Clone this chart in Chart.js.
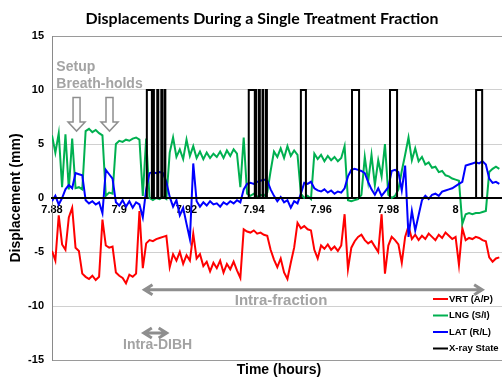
<!DOCTYPE html>
<html>
<head>
<meta charset="utf-8">
<script src="https://cdn.jsdelivr.net/npm/chart.js@4.4.1/dist/chart.umd.min.js"></script>
<style>
body { margin: 0; background: #fff; }
#wrap { width: 502px; height: 377px; position: relative; }
</style>
</head>
<body>
<div id="wrap"><canvas id="chart"></canvas></div>
<script>

// time in hours, one sample every 0.001 h
const time = [
    7.880, 7.881, 7.882, 7.883, 7.884, 7.885, 7.886, 7.887, 7.888, 7.889,
    7.890, 7.891, 7.892, 7.893, 7.894, 7.895, 7.896, 7.897, 7.898, 7.899,
    7.900, 7.901, 7.902, 7.903, 7.904, 7.905, 7.906, 7.907, 7.908, 7.909,
    7.910, 7.911, 7.912, 7.913, 7.914, 7.915, 7.916, 7.917, 7.918, 7.919,
    7.920, 7.921, 7.922, 7.923, 7.924, 7.925, 7.926, 7.927, 7.928, 7.929,
    7.930, 7.931, 7.932, 7.933, 7.934, 7.935, 7.936, 7.937, 7.938, 7.939,
    7.940, 7.941, 7.942, 7.943, 7.944, 7.945, 7.946, 7.947, 7.948, 7.949,
    7.950, 7.951, 7.952, 7.953, 7.954, 7.955, 7.956, 7.957, 7.958, 7.959,
    7.960, 7.961, 7.962, 7.963, 7.964, 7.965, 7.966, 7.967, 7.968, 7.969,
    7.970, 7.971, 7.972, 7.973, 7.974, 7.975, 7.976, 7.977, 7.978, 7.979,
    7.980, 7.981, 7.982, 7.983, 7.984, 7.985, 7.986, 7.987, 7.988, 7.989,
    7.990, 7.991, 7.992, 7.993, 7.994, 7.995, 7.996, 7.997, 7.998, 7.999,
    8.000, 8.001, 8.002, 8.003, 8.004, 8.005, 8.006, 8.007, 8.008, 8.009,
    8.010, 8.011, 8.012, 8.013
];

const vrt = [
    -4.9, -5.8, -1.6, -4.3, -4.8, -1.8, -0.9, -4.6, -4.9, -7.0,
    -7.3, -7.5, -7.2, -7.6, -7.3, -2.0, -4.4, -4.6, -4.5, -6.9,
    -7.2, -7.4, -7.9, -7.1, -7.3, -7.0, -1.2, -6.5, -4.2,
    -3.9, -4.0, -3.8, -3.7, -3.6, -3.5, -6.4, -5.2, -5.8, -5.0,
    -6.1, -5.3, -5.8, -3.3, -5.6, -5.2, -6.3, -5.9, -6.8, -6.0,
    -6.5, -5.8, -6.9, -6.1, -6.6, -5.9, -6.7, -7.4, -2.9, -3.1,
    -3.2, -3.0, -3.3, -3.2, -3.4, -3.5, -4.8, -5.7, -6.4, -5.6,
    -6.9, -7.5, -6.0, -4.6, -2.3, -2.8, -2.6, -2.9, -3.0, -4.8,
    -5.6, -4.4, -4.7, -4.3, -4.8, -4.5, -4.9, -4.4, -1.5, -6.6,
    -4.6, -4.0, -3.6, -3.4, -3.9, -4.2, -4.0, -4.5, -5.0, -1.5,
    -7.0, -4.4, -3.6, -3.9, -4.3,
    -6.0, -3.6, -2.6, -3.8,
    -3.4, -3.9, -3.5, -3.8, -3.3, -3.6, -3.9, -3.4, -3.7, -3.2,
    -3.5, -3.8, -3.6, -6.2, -2.8, -3.9, -3.7, -3.8, -3.6, -3.7,
    -3.9, -4.0, -5.5, -5.9, -5.6, -5.5
];

const lng = [
    5.8, 4.2, 6.0, 1.0, 5.9, 0.8, 5.5, 0.9, 1.0, 0.8,
    6.2, 6.4, 6.1, 6.3, 6.0, 5.8, 0.2, 0.5, 0.4, 5.0,
    5.3, 5.2, 5.4, 5.3, 5.5, 5.6, 5.4, 0.2, 5.5,
    0.0, -0.2, 0.0, -0.1, 0.1, -0.1, 4.2, 5.6, 3.8, 4.5,
    3.6, 5.4, 3.9, 4.8, 3.7, 4.3, 3.6, 4.2, 3.7, 4.1,
    3.8, 4.3, 3.7, 4.4, 3.9, 4.5, 4.1, 1.0, 5.6, 0.4,
    0.2, 0.4, 0.1, 0.3, 0.2, 0.5, 2.5, 4.3, 3.8, 4.6,
    3.7, 4.8, 3.9, 4.4, 4.0, 0.4, 0.0, 0.2, -0.1, 4.1,
    3.6, 4.0, 3.4, 3.9, 3.5, 3.8, 3.4, 3.7, 4.8, -0.2,
    -0.3, -0.2, -0.1, 0.3, 3.8, 1.5, 4.0, 1.2, 3.5, 2.0,
    5.0, 0.3, 0.0, 0.2, 0.8,
    2.5, 4.0, 5.6, 3.5,
    4.6, 3.4, 3.8, 3.1, 3.3, 2.8, 2.9, 2.4, 2.5, 2.1,
    2.0, 1.8, 1.7, 1.6, -2.4, -1.5, -1.4, -1.5, -1.4, -1.4,
    -1.3, -1.2, 2.4, 2.7, 2.9, 2.7
];

const lat = [
    -0.3, 0.2, -0.6, 0.0, 0.8, 1.2, 0.9, 2.3, 2.2, 2.1,
    -0.2, -0.5, -0.3, -0.6, -0.4, -1.4, 2.6, 2.2, 1.8, -0.4,
    -0.7, -0.2, -0.8, -0.3, -0.9, -0.4, -0.6, -1.8, 0.8,
    2.3, 2.4, 2.3, 2.4, 2.3, 1.5, 0.1, -0.8, -0.2, -1.6,
    -0.9, -2.4, -3.8, 3.2, -0.3, -0.8, -0.4, -0.7, -0.3, -0.6,
    -0.5, -0.8, -0.4, -0.6, -0.3, -0.5, -0.2, -0.4, 0.8, 1.3,
    1.4, 1.3, 1.5, 1.6, 1.7, 1.6, 0.8, 0.2, -0.3, 0.1,
    -0.4, -0.2, -0.9, -0.3, -0.5, 0.4, 1.4, 1.3, 1.5, 0.9,
    0.7, 0.6, 0.8, 0.5, 0.7, 0.4, 0.6, 0.5, 0.9, 2.0,
    2.6, 2.7, 2.6, 2.5, 2.3, 1.5, 0.8, 0.3, 0.9, 0.2,
    0.6, 1.0, 2.5, 2.6, 2.4,
    0.7, 3.0, -3.6, -1.2,
    -3.0, -1.6, -0.2, 0.2, -0.1, 0.3, 0.4, 0.2, 0.6, 0.7,
    0.8, 0.9, 1.1, 1.3, 1.5, 3.0, 3.1, 3.2, 3.3, 3.2,
    3.4, 3.1, 1.8, 1.4, 1.5, 1.3
];

// x-ray beam switching times (h) and the state from that time on
const xrayTime = [
    7.8800,
    7.9082, 7.9097, 7.9100, 7.9103, 7.9113, 7.9116,
    7.9125, 7.9128, 7.9135, 7.9137,
    7.9385, 7.9403, 7.9405, 7.9407, 7.9415, 7.9418,
    7.9426, 7.9428, 7.9436, 7.9439,
    7.9540, 7.9555, 7.9692, 7.9713, 7.9805, 7.9826,
    8.0061, 8.0079, 8.0133
];

const xrayState = [
    0,
    10, 0, 10, 0, 10, 0,
    10, 0, 10, 0,
    10, 0, 10, 0, 10, 0,
    10, 0, 10, 0,
    10, 0, 10, 0, 10, 0,
    10, 0, 0
];

const timeTicks = [7.88, 7.9, 7.92, 7.94, 7.96, 7.98, 8];

const seriesNames = ["VRT (A/P)", "LNG (S/I)", "LAT (R/L)", "X-ray State"];
const seriesColors = ["#ff0000", "#00b050", "#0000ff", "#000000"];

const ARIAL = '"Liberation Sans", Arial, sans-serif';
const GREY = "#a3a3a3";

function points(xs, ys) {
    return ys.map((v, i) => ({ x: xs[i], y: v }));
}

function downArrow(ctx, x, y0, y1) {
    const head = 9;
    ctx.beginPath();
    ctx.moveTo(x - 3.5, y0);
    ctx.lineTo(x + 3.5, y0);
    ctx.lineTo(x + 3.5, y1 - head);
    ctx.lineTo(x + 8.5, y1 - head);
    ctx.lineTo(x, y1);
    ctx.lineTo(x - 8.5, y1 - head);
    ctx.lineTo(x - 3.5, y1 - head);
    ctx.closePath();
    ctx.fillStyle = "#fff";
    ctx.fill();
    ctx.lineWidth = 1.5;
    ctx.strokeStyle = "#8e8e8e";
    ctx.stroke();
}

function bothArrow(ctx, x1, x2, y) {
    ctx.strokeStyle = "#8e8e8e";
    ctx.lineWidth = 3;
    ctx.beginPath();
    ctx.moveTo(x1 + 1, y);
    ctx.lineTo(x2 - 1, y);
    ctx.moveTo(x1 + 9, y - 5);
    ctx.lineTo(x1 + 1, y);
    ctx.lineTo(x1 + 9, y + 5);
    ctx.moveTo(x2 - 9, y - 5);
    ctx.lineTo(x2 - 1, y);
    ctx.lineTo(x2 - 9, y + 5);
    ctx.stroke();
}

const notes = {
    id: "notes",
    afterDatasetsDraw(chart) {
        const ctx = chart.ctx;
        const sx = chart.scales.x;
        const sy = chart.scales.y;
        const area = chart.chartArea;

        ctx.save();

        // setup breath-holds
        ctx.fillStyle = GREY;
        ctx.font = "bold 14px " + ARIAL;
        ctx.textBaseline = "middle";
        ctx.textAlign = "left";
        ctx.fillText("Setup", sx.getPixelForValue(7.8813), sy.getPixelForValue(12.1));
        ctx.fillText("Breath-holds", sx.getPixelForValue(7.8813), sy.getPixelForValue(10.55));
        [7.8873, 7.8971].forEach(t =>
            downArrow(ctx, sx.getPixelForValue(t), sy.getPixelForValue(9.3), sy.getPixelForValue(6.2)));

        // intra-fraction
        bothArrow(ctx, sx.getPixelForValue(7.9072), sx.getPixelForValue(8.0082), sy.getPixelForValue(-8.5));
        ctx.fillStyle = GREY;
        ctx.font = "bold 15px " + ARIAL;
        ctx.textAlign = "center";
        ctx.fillText("Intra-fraction", sx.getPixelForValue(7.9481), sy.getPixelForValue(-9.5));

        // intra-DIBH
        bothArrow(ctx, sx.getPixelForValue(7.9070), sx.getPixelForValue(7.9144), sy.getPixelForValue(-12.5));
        ctx.fillStyle = GREY;
        ctx.font = "bold 14px " + ARIAL;
        ctx.fillText("Intra-DIBH", sx.getPixelForValue(7.9114), sy.getPixelForValue(-13.6));

        // legend, bottom right inside the plot
        ctx.font = "bold 9.5px " + ARIAL;
        ctx.textAlign = "left";
        seriesNames.forEach((name, i) => {
            const yy = area.bottom - 61 + i * 16.5;
            ctx.strokeStyle = seriesColors[i];
            ctx.lineWidth = 2;
            ctx.beginPath();
            ctx.moveTo(area.right - 69, yy);
            ctx.lineTo(area.right - 54, yy);
            ctx.stroke();
            ctx.fillStyle = "#000";
            ctx.fillText(name, area.right - 53, yy);
        });

        // titles
        ctx.fillStyle = "#000";
        ctx.textAlign = "center";
        ctx.font = "bold 14px " + ARIAL;
        ctx.fillText("Time (hours)", (area.left + area.right) / 2 + 2, area.bottom + 10);

        let size = 16;
        ctx.font = "bold " + size + "px Lato";
        size = size * 353 / ctx.measureText("Displacements During a Single Treatment Fraction").width;
        ctx.font = "bold " + size.toFixed(2) + "px Lato";
        ctx.fillText("Displacements During a Single Treatment Fraction", 262, 19);

        ctx.restore();
    }
};

const lineStyle = { borderWidth: 2, pointRadius: 0, tension: 0, fill: false };

new Chart(document.getElementById("chart"), {
    type: "line",
    data: {
        datasets: [
            { ...lineStyle, label: seriesNames[0], data: points(time, vrt), borderColor: seriesColors[0], order: 3 },
            { ...lineStyle, label: seriesNames[1], data: points(time, lng), borderColor: seriesColors[1], order: 2 },
            { ...lineStyle, label: seriesNames[2], data: points(time, lat), borderColor: seriesColors[2], order: 1 },
            { ...lineStyle, label: seriesNames[3], data: points(xrayTime, xrayState), borderColor: seriesColors[3],
              stepped: "before", order: 0 }
        ]
    },
    options: {
        responsive: true,
        maintainAspectRatio: false,
        animation: false,
        layout: { padding: { top: 36, right: 0, bottom: 17, left: 0 } },
        plugins: {
            legend: { display: false },
            title: { display: false },
            tooltip: { enabled: false }
        },
        scales: {
            x: {
                type: "linear",
                min: 7.88,
                max: 8.0138,
                position: { y: 0 },
                grid: { display: false, drawTicks: false },
                border: { display: true, color: "#000", width: 2 },
                ticks: {
                    color: "#000",
                    font: { family: ARIAL, weight: "bold", size: 11 },
                    padding: 5,
                    maxRotation: 0,
                    autoSkip: false,
                    callback: v => String(Number(v.toFixed(2)))
                },
                afterBuildTicks: s => { s.ticks = timeTicks.map(v => ({ value: v })); }
            },
            y: {
                min: -15,
                max: 15,
                ticks: {
                    stepSize: 5,
                    color: "#000",
                    font: { family: ARIAL, weight: "bold", size: 11 },
                    padding: 8
                },
                grid: {
                    drawTicks: false,
                    color: c => Math.abs(c.tick.value) == 15 ? "#9a9a9a" : "#d0d0d0"
                },
                border: { color: "#8a8a8a", width: 1 },
                title: {
                    display: true,
                    text: "Displacement (mm)",
                    color: "#000",
                    font: { family: ARIAL, weight: "bold", size: 14 },
                    padding: { top: 8, bottom: 0 }
                },
                afterFit: s => { s.width = 52; }
            }
        }
    },
    plugins: [notes]
});

</script>
</body>
</html>
